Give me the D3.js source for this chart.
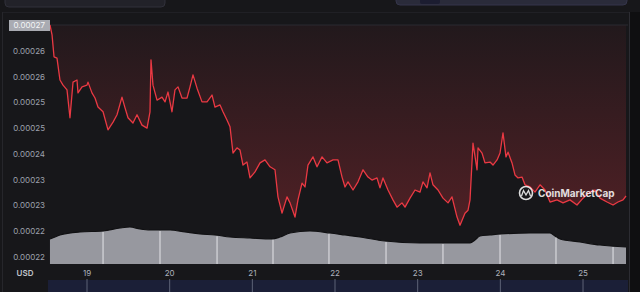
<!DOCTYPE html>
<html>
<head>
<meta charset="utf-8">
<script src="https://cdn.jsdelivr.net/npm/d3@7"></script>
<style>
    html, body { margin: 0; padding: 0; background: #17171a; }
    svg { display: block; font-family: Inter, "Noto Sans", sans-serif; }
</style>
</head>
<body>
<svg id="chart"></svg>
<script>
// price series: day of month (June) and price in USD
let priceDays = [18.552, 18.577, 18.601, 18.637, 18.673, 18.710, 18.758, 18.794, 18.831, 18.879,
    18.891, 18.940, 19.000, 19.012, 19.060, 19.097, 19.133, 19.194, 19.254, 19.315,
    19.363, 19.423, 19.460, 19.496, 19.556, 19.605, 19.665, 19.726, 19.762, 19.774,
    19.798, 19.847, 19.907, 19.944, 19.980, 20.028, 20.064, 20.101, 20.149, 20.210,
    20.246, 20.282, 20.331, 20.391, 20.452, 20.512, 20.548, 20.609, 20.645, 20.693,
    20.730, 20.766, 20.814, 20.851, 20.887, 20.935, 20.972, 21.032, 21.093, 21.153,
    21.214, 21.274, 21.310, 21.359, 21.419, 21.456, 21.516, 21.552, 21.601, 21.637,
    21.673, 21.734, 21.782, 21.843, 21.903, 21.976, 22.036, 22.085, 22.121, 22.157,
    22.218, 22.278, 22.339, 22.399, 22.447, 22.508, 22.544, 22.580, 22.641, 22.701,
    22.750, 22.810, 22.847, 22.907, 22.968, 23.028, 23.064, 23.113, 23.149, 23.185,
    23.246, 23.306, 23.367, 23.415, 23.476, 23.512, 23.572, 23.609, 23.633, 23.669,
    23.718, 23.730, 23.778, 23.814, 23.875, 23.911, 23.960, 23.996, 24.032, 24.068,
    24.093, 24.141, 24.177, 24.214, 24.262, 24.298, 24.359, 24.419, 24.480, 24.540,
    24.601, 24.685, 24.758, 24.842, 24.927, 25.000, 25.084, 25.145, 25.205, 25.290,
    25.363, 25.423, 25.484, 25.520];
let prices = [0.0002700, 0.0002677, 0.0002626, 0.0002623, 0.0002572, 0.0002560, 0.0002549, 0.0002484, 0.0002567, 0.0002572,
    0.0002542, 0.0002556, 0.0002560, 0.0002567, 0.0002542, 0.0002530, 0.0002509, 0.0002498, 0.0002456, 0.0002474,
    0.0002491, 0.0002532, 0.0002507, 0.0002484, 0.0002472, 0.0002491, 0.0002467, 0.0002460, 0.0002498, 0.0002619,
    0.0002560, 0.0002525, 0.0002532, 0.0002521, 0.0002544, 0.0002498, 0.0002549, 0.0002556, 0.0002530, 0.0002530,
    0.0002556, 0.0002584, 0.0002553, 0.0002521, 0.0002521, 0.0002537, 0.0002509, 0.0002514, 0.0002498, 0.0002479,
    0.0002463, 0.0002402, 0.0002414, 0.0002409, 0.0002374, 0.0002381, 0.0002344, 0.0002358, 0.0002379, 0.0002386,
    0.0002370, 0.0002363, 0.0002300, 0.0002262, 0.0002300, 0.0002286, 0.0002253, 0.0002293, 0.0002332, 0.0002323,
    0.0002374, 0.0002393, 0.0002370, 0.0002393, 0.0002379, 0.0002386, 0.0002386, 0.0002346, 0.0002323, 0.0002335,
    0.0002316, 0.0002335, 0.0002363, 0.0002346, 0.0002339, 0.0002344, 0.0002321, 0.0002344, 0.0002316, 0.0002293,
    0.0002276, 0.0002286, 0.0002276, 0.0002297, 0.0002316, 0.0002311, 0.0002335, 0.0002321, 0.0002356, 0.0002328,
    0.0002316, 0.0002297, 0.0002286, 0.0002300, 0.0002253, 0.0002234, 0.0002262, 0.0002269, 0.0002293, 0.0002425,
    0.0002363, 0.0002414, 0.0002402, 0.0002379, 0.0002381, 0.0002374, 0.0002386, 0.0002402, 0.0002449, 0.0002393,
    0.0002404, 0.0002379, 0.0002351, 0.0002344, 0.0002346, 0.0002328, 0.0002323, 0.0002311, 0.0002328, 0.0002316,
    0.0002288, 0.0002293, 0.0002286, 0.0002293, 0.0002281, 0.0002297, 0.0002311, 0.0002316, 0.0002297, 0.0002288,
    0.0002281, 0.0002288, 0.0002293, 0.0002302];

// volume profile (relative units)
let volumeDays = [18.552, 18.613, 18.673, 18.915, 19.194, 19.399, 19.520, 19.641, 19.762, 20.004,
    20.185, 20.367, 20.548, 20.730, 20.972, 21.238, 21.335, 21.456, 21.697, 21.939,
    22.121, 22.302, 22.605, 23.028, 23.391, 23.633, 23.693, 23.754, 23.875, 23.996,
    24.359, 24.601, 24.661, 24.722, 24.964, 25.205, 25.520];
let volumes = [250, 270, 290, 320, 330, 360, 370, 350, 340, 340,
    320, 300, 290, 270, 260, 250, 270, 310, 330, 310,
    290, 270, 230, 210, 210, 210, 240, 280, 290, 300,
    310, 310, 280, 250, 220, 190, 170];
let volumeMarks = [19.194, 19.883, 20.573, 21.250, 21.927, 22.617, 23.306, 23.996, 24.673, 25.363];

let dayTicks = [19, 20, 21, 22, 23, 24, 25];
let priceTicks = [0.000270, 0.000264, 0.000258, 0.000252, 0.000246, 0.000240, 0.000234, 0.000228, 0.000222, 0.000216];

let W = 640, H = 292;
let plot = {left: 50, right: 628, top: 25, bottom: 264};

let svg = d3.select("#chart").attr("width", W).attr("height", H);

let x = d3.scaleLinear()
    .domain([18.5524, 25.544])
    .range([plot.left, plot.right]);
let y = d3.scaleLinear()
    .domain([0.000216, 0.000270])
    .range([257, 25]);
let yVol = d3.scaleLinear()
    .domain([0, 400])
    .range([plot.bottom, plot.bottom - 40]);

drawFrame();
drawVolume();
drawPrice();
drawAxes();
drawWatermark();

function drawFrame() {
    svg.append("rect").attr("width", W).attr("height", H).attr("fill", "#17171a");
    // header controls cut off at the top
    svg.append("rect")
        .attr("x", 5).attr("y", -6).attr("width", 160).attr("height", 13).attr("rx", 4)
        .attr("fill", "#222229").attr("stroke", "#30303a");
    svg.append("rect")
        .attr("x", 396).attr("y", -6).attr("width", 231).attr("height", 11).attr("rx", 4)
        .attr("fill", "#2a2b3a").attr("stroke", "#34354a");
    svg.append("rect")
        .attr("x", 420).attr("y", -6).attr("width", 20).attr("height", 10).attr("rx", 2)
        .attr("fill", "#1c1d31");
    // side borders
    svg.append("rect").attr("x", 630).attr("y", 12).attr("width", 10).attr("height", H)
        .attr("fill", "#0f0f11");
    svg.append("line").attr("x1", 629.5).attr("x2", 629.5).attr("y1", 12).attr("y2", H)
        .attr("stroke", "#2c2c32");
    svg.append("line").attr("x1", 2.5).attr("x2", 2.5).attr("y1", 12).attr("y2", H)
        .attr("stroke", "#26262b");
    svg.append("line").attr("x1", 3).attr("x2", 629).attr("y1", 12.5).attr("y2", 12.5)
        .attr("stroke", "#202025");
}

function drawVolume() {
    let pts = volumeDays.map(function (d, i) { return [d, volumes[i]]; });
    let area = d3.area()
        .x(function (d) { return x(d[0]); })
        .y0(yVol(0))
        .y1(function (d) { return yVol(d[1]); })
        .curve(d3.curveMonotoneX);
    svg.append("path")
        .attr("d", area(pts))
        .attr("fill", "#97989f");
    let topLine = d3.line()
        .x(function (d) { return x(d[0]); })
        .y(function (d) { return yVol(d[1]); })
        .curve(d3.curveMonotoneX);
    svg.append("path")
        .attr("d", topLine(pts))
        .attr("fill", "none")
        .attr("stroke", "#101012")
        .attr("stroke-width", 1.2);

    // light separators inside the volume bars
    let volAt = function (d) {
        let i = d3.bisectLeft(volumeDays, d);
        let a = Math.max(0, i - 1), b = Math.min(volumeDays.length - 1, i);
        if (a === b) return volumes[a];
        let t = (d - volumeDays[a]) / (volumeDays[b] - volumeDays[a]);
        return volumes[a] + t * (volumes[b] - volumes[a]);
    };
    svg.selectAll(".vmark").data(volumeMarks).enter()
        .append("line")
        .attr("class", "vmark")
        .attr("x1", function (d) { return x(d); })
        .attr("x2", function (d) { return x(d); })
        .attr("y1", function (d) { return yVol(volAt(d)) + 1; })
        .attr("y2", yVol(0))
        .attr("stroke", "#e4e4e8")
        .attr("stroke-width", 1);
}

function drawPrice() {
    let pts = priceDays.map(function (d, i) { return [d, prices[i]]; });
    let base = y(prices[0]);

    let defs = svg.append("defs");
    let grad = defs.append("linearGradient")
        .attr("id", "redFill")
        .attr("gradientUnits", "userSpaceOnUse")
        .attr("x1", 0).attr("x2", 0)
        .attr("y1", base).attr("y2", 225);
    grad.append("stop").attr("offset", "0%").attr("stop-color", "#ea3943").attr("stop-opacity", 0.05);
    grad.append("stop").attr("offset", "100%").attr("stop-color", "#ea3943").attr("stop-opacity", 0.27);

    let area = d3.area()
        .x(function (d) { return x(d[0]); })
        .y0(base)
        .y1(function (d) { return y(d[1]); });
    svg.append("path")
        .attr("d", area(pts))
        .attr("fill", "url(#redFill)");

    // baseline at opening price
    svg.append("line")
        .attr("x1", plot.left).attr("x2", plot.right)
        .attr("y1", base).attr("y2", base)
        .attr("stroke", "#2b2a30")
        .attr("stroke-width", 1);

    let line = d3.line()
        .x(function (d) { return x(d[0]); })
        .y(function (d) { return y(d[1]); });
    svg.append("path")
        .attr("d", line(pts))
        .attr("fill", "none")
        .attr("stroke", "#ea3943")
        .attr("stroke-width", 1.3)
        .attr("stroke-linejoin", "round");
}

function drawAxes() {
    // navigator strip under the axis
    svg.append("rect")
        .attr("x", plot.left - 2).attr("y", 280)
        .attr("width", plot.right - plot.left + 2).attr("height", 12)
        .attr("fill", "#1b1f37");
    svg.selectAll(".navTick").data(dayTicks).enter()
        .append("line")
        .attr("x1", function (d) { return x(d); })
        .attr("x2", function (d) { return x(d); })
        .attr("y1", 279).attr("y2", H)
        .attr("stroke", "#5d6277")
        .attr("stroke-width", 1);

    svg.selectAll(".xLabel").data(dayTicks).enter()
        .append("text")
        .attr("x", function (d) { return x(d); })
        .attr("y", 276)
        .attr("text-anchor", "middle")
        .attr("font-size", 8)
        .attr("fill", "#aeb2bd")
        .text(function (d) { return d; });

    svg.append("text")
        .attr("x", 25).attr("y", 276)
        .attr("text-anchor", "middle")
        .attr("font-size", 8)
        .attr("font-weight", 600)
        .attr("fill", "#c0c3cc")
        .text("USD");

    // highlighted top label
    svg.append("rect")
        .attr("x", 9).attr("y", 20).attr("width", 41).attr("height", 11)
        .attr("fill", "#a9abb2");

    svg.selectAll(".yLabel").data(priceTicks).enter()
        .append("text")
        .attr("x", 45)
        .attr("y", function (d) { return y(d) + 3; })
        .attr("text-anchor", "end")
        .attr("font-size", 8)
        .attr("fill", function (d, i) { return i === 0 ? "#f4f4f6" : "#9da1ad"; })
        .text(function (d) { return d.toFixed(5); });
}

function drawWatermark() {
    let g = svg.append("g").attr("opacity", 0.85);
    g.append("circle")
        .attr("cx", 526).attr("cy", 193).attr("r", 6.5)
        .attr("fill", "none").attr("stroke", "#ffffff").attr("stroke-width", 1.6);
    g.append("path")
        .attr("d", "M521.5,196 L523.5,190.5 L526,195 L528.5,190.5 L530.5,196")
        .attr("fill", "none").attr("stroke", "#ffffff").attr("stroke-width", 1.3);
    g.append("text")
        .attr("x", 538).attr("y", 197)
        .attr("font-size", 10)
        .attr("font-weight", 700)
        .attr("fill", "#ffffff")
        .text("CoinMarketCap");
}
</script>
</body>
</html>
